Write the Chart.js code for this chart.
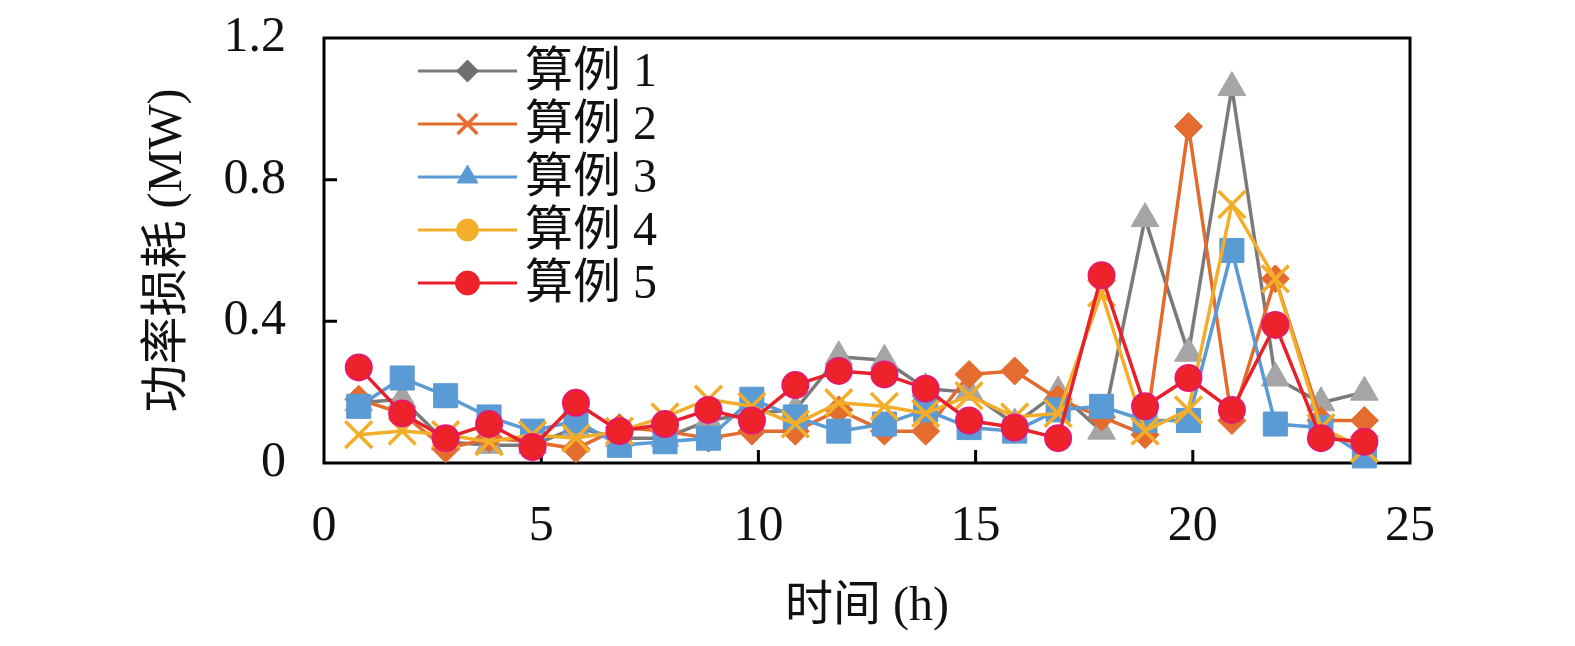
<!DOCTYPE html>
<html>
<head>
<meta charset="utf-8">
<script src="https://cdn.jsdelivr.net/npm/chart.js@4.4.1/dist/chart.umd.min.js"></script>
<style>
  html, body { margin: 0; padding: 0; background: #fff; }
  #wrap { width: 1575px; height: 646px; }
</style>
</head>
<body>
<div id="wrap"><canvas id="lossChart"></canvas></div>
<script>
// hour positions
const hours = [0.8, 1.8, 2.8, 3.8, 4.8, 5.8, 6.8, 7.85, 8.85, 9.85, 10.85, 11.85,
  12.9, 13.85, 14.85, 15.9, 16.9, 17.9, 18.9, 19.9, 20.9, 21.9, 22.95, 23.95];

const case1 = [0.17, 0.18, 0.06, 0.05, 0.05, 0.10, 0.07, 0.07, 0.12, 0.14, 0.15, 0.30,
  0.29, 0.21, 0.20, 0.11, 0.20, 0.09, 0.69, 0.31, 1.06, 0.24, 0.17, 0.20];
const case2 = [0.18, 0.14, 0.04, 0.07, 0.06, 0.04, 0.10, 0.09, 0.07, 0.09, 0.09, 0.15,
  0.09, 0.09, 0.25, 0.26, 0.18, 0.13, 0.08, 0.95, 0.12, 0.52, 0.12, 0.12];
const case3 = [0.16, 0.24, 0.19, 0.13, 0.09, 0.12, 0.05, 0.06, 0.07, 0.18, 0.13, 0.09,
  0.11, 0.15, 0.10, 0.09, 0.15, 0.16, 0.12, 0.12, 0.60, 0.11, 0.10, 0.02];
const case4 = [0.08, 0.09, 0.08, 0.06, 0.08, 0.07, 0.09, 0.13, 0.18, 0.16, 0.11, 0.17,
  0.16, 0.14, 0.19, 0.13, 0.14, 0.48, 0.09, 0.15, 0.73, 0.52, 0.10, 0.04];
const case5 = [0.27, 0.14, 0.07, 0.11, 0.045, 0.17, 0.09, 0.11, 0.15, 0.12, 0.22, 0.26,
  0.25, 0.21, 0.12, 0.10, 0.07, 0.53, 0.16, 0.24, 0.15, 0.39, 0.07, 0.06];

const seriesNames = ["算例 1", "算例 2", "算例 3", "算例 4", "算例 5"];
const seriesValues = [case1, case2, case3, case4, case5];

const xTicks = [0, 5, 10, 15, 20, 25];
const yTicks = [0, 0.4, 0.8, 1.2];

const lineColors = ["#7A7A7A", "#E26B2E", "#5B9BD5", "#F2AE2B", "#E8202A"];
const markerFill = ["#A5A5A5", "#E46C2F", "#5B9BD5", "#F2AE2B", "#EE2229"];
const markerEdge = ["#A5A5A5", "#E46C2F", "#5B9BD5", "#F2AE2B", "#E5196B"];
const markerStyle = ["triangle", "rectRot", "rect", "crossRot", "circle"];
const markerSize = [16, 14, 17, 19, 13];
const markerEdgeWidth = [1, 1, 1, 3.5, 2];

// the legend keys of the original don't match the plotted markers
const legendStyle = ["rectRot", "crossRot", "triangle", "circle", "circle"];
const legendFill = ["#6F6F6F", "#E46C2F", "#5B9BD5", "#F2AE2B", "#EE2229"];
const legendSize = [11, 14, 12, 11, 12];

const serif = "'Liberation Serif', 'Noto Sans CJK SC', serif";

const datasets = seriesValues.map((vals, i) => ({
  label: seriesNames[i],
  data: hours.map((h, j) => ({ x: h, y: vals[j] })),
  borderColor: lineColors[i],
  borderWidth: 3.5,
  pointStyle: markerStyle[i],
  pointRadius: markerSize[i],
  pointBackgroundColor: markerFill[i],
  pointBorderColor: markerEdge[i],
  pointBorderWidth: markerEdgeWidth[i],
  tension: 0,
  clip: false,
  order: 5 - i,
}));

// box around the plot + inward tick marks
const framePlugin = {
  id: "frame",
  beforeDatasetsDraw(chart) {
    const { ctx, chartArea: a, scales } = chart;
    ctx.save();
    ctx.strokeStyle = "#000";
    ctx.lineWidth = 3;
    ctx.strokeRect(a.left, a.top, a.right - a.left, a.bottom - a.top);
    ctx.beginPath();
    xTicks.slice(1, -1).forEach(v => {
      const px = scales.x.getPixelForValue(v);
      ctx.moveTo(px, a.bottom);
      ctx.lineTo(px, a.bottom - 13);
    });
    yTicks.slice(1, -1).forEach(v => {
      const py = scales.y.getPixelForValue(v);
      ctx.moveTo(a.left, py);
      ctx.lineTo(a.left + 13, py);
    });
    ctx.stroke();
    ctx.restore();
  },
};

// legend: line with a key marker, text beside
const legendPlugin = {
  id: "keyLegend",
  afterDraw(chart) {
    const ctx = chart.ctx;
    const x0 = 418, x1 = 517, top = 71, step = 53;
    ctx.save();
    seriesNames.forEach((name, i) => {
      const y = top + i * step;
      ctx.strokeStyle = lineColors[i];
      ctx.lineWidth = 3;
      ctx.beginPath();
      ctx.moveTo(x0, y);
      ctx.lineTo(x1, y);
      ctx.stroke();
      ctx.fillStyle = legendFill[i];
      ctx.strokeStyle = legendFill[i];
      ctx.lineWidth = legendStyle[i] === "crossRot" ? 3.5 : 1;
      Chart.helpers.drawPoint(ctx, {
        pointStyle: legendStyle[i],
        radius: legendSize[i],
        rotation: 0,
        borderWidth: ctx.lineWidth,
      }, (x0 + x1) / 2, y);
      ctx.fillStyle = "#111";
      ctx.font = "48px " + serif;
      ctx.textBaseline = "middle";
      ctx.textAlign = "left";
      ctx.fillText(name, 525, y + 2);
    });
    ctx.restore();
  },
};

const ctx = document.getElementById("lossChart").getContext("2d");
new Chart(ctx, {
  type: "line",
  data: { datasets: datasets },
  plugins: [framePlugin, legendPlugin],
  options: {
    responsive: true,
    maintainAspectRatio: false,
    animation: false,
    layout: { padding: { top: 38, right: 165, bottom: 0, left: 0 } },
    plugins: {
      legend: { display: false },
      tooltip: { enabled: false },
    },
    scales: {
      x: {
        type: "linear",
        min: 0,
        max: 25,
        afterFit: s => { s.height = 183; s.paddingLeft = 0; s.paddingRight = 0; },
        afterBuildTicks: s => { s.ticks = xTicks.map(v => ({ value: v })); },
        grid: { display: false },
        border: { display: false },
        ticks: {
          padding: 26,
          color: "#111",
          font: { family: serif, size: 50 },
          maxRotation: 0,
        },
        title: {
          display: true,
          text: "时间 (h)",
          color: "#111",
          font: { family: serif, size: 48 },
          padding: { top: 0, bottom: 10 },
        },
      },
      y: {
        min: 0,
        max: 1.2,
        afterFit: s => { s.width = 324; s.paddingTop = 0; s.paddingBottom = 0; },
        afterBuildTicks: s => { s.ticks = yTicks.map(v => ({ value: v })); },
        grid: { display: false },
        border: { display: false },
        ticks: {
          padding: 30,
          color: "#111",
          font: { family: serif, size: 50 },
          callback: v => String(v),
        },
        title: {
          display: true,
          text: "功率损耗 (MW)",
          color: "#111",
          font: { family: serif, size: 48 },
          padding: { top: 140, bottom: 0 },
        },
      },
    },
  },
});
</script>
</body>
</html>
